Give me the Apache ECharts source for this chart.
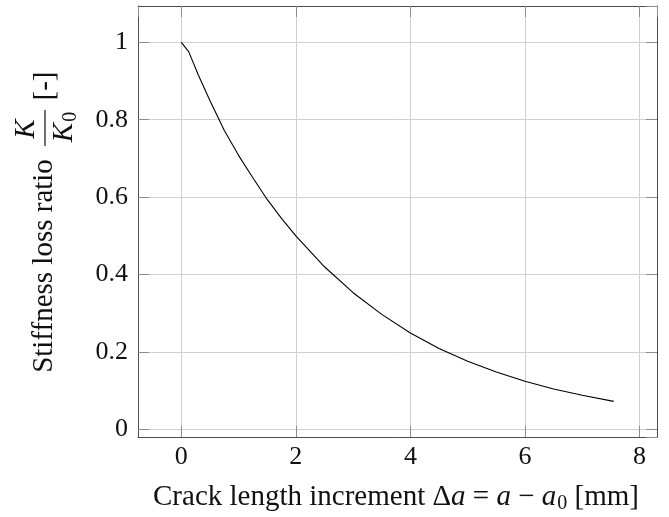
<!DOCTYPE html>
<html>
<head>
<meta charset="utf-8">
<script src="https://cdn.jsdelivr.net/npm/echarts@6/dist/echarts.min.js"></script>
<style>
  html, body { margin: 0; padding: 0; background: #fff; }
  #container { width: 669px; height: 517px; }
</style>
</head>
<body>
<div id="container"></div>
<script>
// crack length increment [mm]
var crackLength = [0, 0.13, 0.3, 0.5, 0.75, 1, 1.25, 1.5, 1.75, 2, 2.5, 3, 3.5, 4, 4.5, 5, 5.5, 6, 6.5, 7, 7.55];
// stiffness loss ratio K/K0
var stiffness = [1, 0.976, 0.915, 0.85, 0.773, 0.708, 0.65, 0.594, 0.545, 0.5, 0.42, 0.353, 0.297, 0.249, 0.209, 0.176, 0.148, 0.124, 0.104, 0.088, 0.072];
var xRange = [-0.755, 8.305];
var yRange = [-0.02, 1.094];

var dom = document.getElementById("container");
var myChart = echarts.init(dom);
var font = '"Liberation Serif", "DejaVu Serif", serif';
var fs = 26;   // tick labels
var tfs = 29;  // axis titles (CM is wider than Times, so a bit bigger)

var lineData = [];
for (var i = 0; i < crackLength.length; i++) {
    lineData.push([crackLength[i], stiffness[i]]);
}

function axisBase(pos, showLabel, margin) {
    return {
        type: 'value',
        position: pos,
        splitNumber: 5,
        axisLine: {show: true, onZero: false, lineStyle: {color: '#4d4d4d', width: 1}},
        axisTick: {show: true, inside: true, length: 11, lineStyle: {color: '#8c8c8c'}},
        axisLabel: {
            show: showLabel, fontFamily: font, fontSize: fs, color: '#111',
            margin: margin, showMinLabel: false, showMaxLabel: false,
            formatter: function (v) { return String(Math.round(v * 100) / 100); }
        },
        splitLine: {show: showLabel, lineStyle: {color: '#d0d0d0', width: 1}}
    };
}

var xBottom = axisBase('bottom', true, 7);
xBottom.min = xRange[0]; xBottom.max = xRange[1];
var xTop = axisBase('top', false, 7);
xTop.min = xRange[0]; xTop.max = xRange[1];
var yLeft = axisBase('left', true, 10);
yLeft.min = yRange[0]; yLeft.max = yRange[1];
var yRight = axisBase('right', false, 10);
yRight.min = yRange[0]; yRight.max = yRange[1];

var option = {
    animation: false,
    grid: {left: 138, right: 12, top: 6, bottom: 80, containLabel: false},
    xAxis: [xBottom, xTop],
    yAxis: [yLeft, yRight],
    series: [{
        type: 'line',
        xAxisIndex: 0,
        yAxisIndex: 0,
        data: lineData,
        symbol: 'none',
        smooth: false,
        lineStyle: {color: '#000', width: 1.1}
    }],
    graphic: [
        {
            type: 'text',
            x: 396,
            y: 497,
            style: {
                text: '{n|Crack length increment Δ}{i|a}{n| = }{i|a}{n| − }{i|a}{s|0}{n| [mm]}',
                fill: '#111',
                align: 'center',
                verticalAlign: 'middle',
                rich: {
                    n: {fontFamily: font, fontSize: tfs, fill: '#111'},
                    i: {fontFamily: font, fontSize: tfs, fontStyle: 'italic', fill: '#111'},
                    s: {fontFamily: font, fontSize: 20, fill: '#111', padding: [13, 0, 0, 1]}
                }
            }
        },
        {
            type: 'group',
            x: 44,
            y: 230,
            rotation: Math.PI / 2,
            children: [
                {
                    type: 'text',
                    x: -36, y: 0,
                    style: {text: 'Stiffness loss ratio', fontFamily: font, fontSize: tfs, fill: '#111', align: 'center', verticalAlign: 'middle'}
                },
                {
                    type: 'text',
                    x: 101, y: -18,
                    style: {text: 'K', fontFamily: font, fontSize: tfs, fontStyle: 'italic', fill: '#111', align: 'center', verticalAlign: 'middle'}
                },
                {
                    type: 'line',
                    shape: {x1: 84, y1: 1, x2: 120, y2: 1},
                    style: {stroke: '#111', lineWidth: 1.2}
                },
                {
                    type: 'text',
                    x: 103, y: 20,
                    style: {
                        text: '{i|K}{s|0}',
                        align: 'center', verticalAlign: 'middle',
                        rich: {
                            i: {fontFamily: font, fontSize: tfs, fontStyle: 'italic', fill: '#111'},
                            s: {fontFamily: font, fontSize: 20, fill: '#111', padding: [13, 0, 0, 1]}
                        }
                    }
                },
                {
                    type: 'text',
                    x: 144, y: 1,
                    style: {text: '[-]', fontFamily: font, fontSize: tfs, fill: '#111', align: 'center', verticalAlign: 'middle'}
                }
            ]
        }
    ]
};

if (option && typeof option === "object") {
    myChart.setOption(option, true);
}
</script>
</body>
</html>
